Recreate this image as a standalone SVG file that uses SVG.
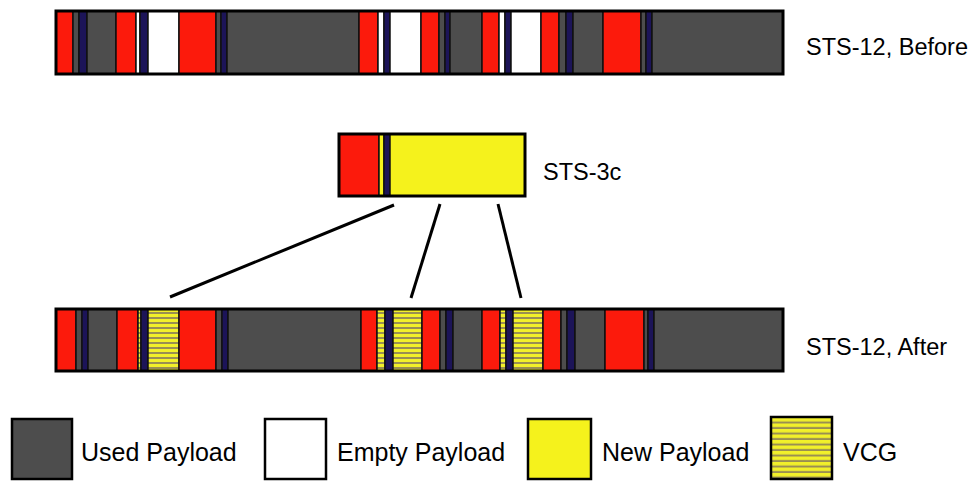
<svg xmlns="http://www.w3.org/2000/svg" width="972" height="481" viewBox="0 0 972 481">
<defs>
<pattern id="vcg" patternUnits="userSpaceOnUse" x="0" y="0" width="10" height="5">
<rect width="10" height="5" fill="#f2f02a"/>
<rect y="3" width="10" height="2" fill="#9a8f52"/>
</pattern>
<pattern id="vcgL" patternUnits="userSpaceOnUse" x="0" y="418" width="10" height="5.5">
<rect width="10" height="5.5" fill="#f2f02a"/>
<rect y="3.5" width="10" height="2" fill="#9a8f52"/>
</pattern>
</defs>
<style>
.r{fill:#fc1a0c;stroke:#111;stroke-width:1.5}
.g{fill:#4d4d4d;stroke:#111;stroke-width:1.5}
.n{fill:#1c1458;stroke:#111;stroke-width:1.5}
.w{fill:#ffffff;stroke:#111;stroke-width:1.5}
.y{fill:#f5f21c;stroke:#111;stroke-width:1.5}
.v{fill:url(#vcg);stroke:#111;stroke-width:1.5}
.frame{fill:none;stroke:#000;stroke-width:3}
.lbl{font-family:"Liberation Sans",Arial,sans-serif;font-size:23.5px;fill:#000}
.leg{font-family:"Liberation Sans",Arial,sans-serif;font-size:25px;fill:#000}
.conn{stroke:#000;stroke-width:3;fill:none}
.box{stroke:#000;stroke-width:2.5}
</style>
<rect width="972" height="481" fill="#fff"/>

<g id="sts12-before">
<g transform="translate(0,11)">
<rect class="r" x="56" width="17" height="63"/>
<rect class="g" x="73" width="6" height="63"/>
<rect class="n" x="79" width="8" height="63"/>
<rect class="g" x="87" width="29" height="63"/>
<rect class="r" x="116" width="20" height="63"/>
<rect class="w" x="136" width="4" height="63"/>
<rect class="n" x="140" width="8" height="63"/>
<rect class="w" x="148" width="31" height="63"/>
<rect class="r" x="179" width="37" height="63"/>
<rect class="g" x="216" width="5" height="63"/>
<rect class="n" x="221" width="6" height="63"/>
<rect class="g" x="227" width="132" height="63"/>
<rect class="r" x="359" width="19" height="63"/>
<rect class="w" x="378" width="6" height="63"/>
<rect class="n" x="384" width="6" height="63"/>
<rect class="w" x="390" width="31" height="63"/>
<rect class="r" x="421" width="18" height="63"/>
<rect class="g" x="439" width="6" height="63"/>
<rect class="n" x="445" width="5" height="63"/>
<rect class="g" x="450" width="32" height="63"/>
<rect class="r" x="482" width="17" height="63"/>
<rect class="w" x="499" width="6" height="63"/>
<rect class="n" x="505" width="6" height="63"/>
<rect class="w" x="511" width="30" height="63"/>
<rect class="r" x="541" width="18" height="63"/>
<rect class="g" x="559" width="7" height="63"/>
<rect class="n" x="566" width="7" height="63"/>
<rect class="g" x="573" width="30" height="63"/>
<rect class="r" x="603" width="38" height="63"/>
<rect class="g" x="641" width="5" height="63"/>
<rect class="n" x="646" width="6" height="63"/>
<rect class="g" x="652" width="131" height="63"/>
<rect class="frame" x="56" width="727" height="63"/>
</g>
<text class="lbl" x="806" y="55">STS-12, Before</text>
</g>

<g id="sts3c">
<rect class="r" x="339" y="134" width="40" height="62"/>
<rect class="y" x="379" y="134" width="5" height="62"/>
<rect class="n" x="384" y="134" width="6" height="62"/>
<rect class="y" x="390" y="134" width="135" height="62"/>
<rect class="frame" x="339" y="134" width="186" height="62"/>
<text class="lbl" x="543" y="180">STS-3c</text>
</g>

<g id="connectors">
<line class="conn" x1="394" y1="205" x2="170" y2="297"/>
<line class="conn" x1="440" y1="204" x2="411" y2="298"/>
<line class="conn" x1="498" y1="204" x2="521" y2="298"/>
</g>

<g id="sts12-after">
<g transform="translate(0,309)">
<rect class="r" x="56" width="20" height="62"/>
<rect class="g" x="76" width="6" height="62"/>
<rect class="n" x="82" width="6" height="62"/>
<rect class="g" x="88" width="29" height="62"/>
<rect class="r" x="117" width="21" height="62"/>
<rect class="v" x="138" width="3" height="62"/>
<rect class="n" x="141" width="7" height="62"/>
<rect class="v" x="148" width="31" height="62"/>
<rect class="r" x="179" width="37" height="62"/>
<rect class="g" x="216" width="6" height="62"/>
<rect class="n" x="222" width="6" height="62"/>
<rect class="g" x="228" width="133" height="62"/>
<rect class="r" x="361" width="16" height="62"/>
<rect class="v" x="377" width="8" height="62"/>
<rect class="n" x="385" width="8" height="62"/>
<rect class="v" x="393" width="29" height="62"/>
<rect class="r" x="422" width="18" height="62"/>
<rect class="g" x="440" width="6" height="62"/>
<rect class="n" x="446" width="7" height="62"/>
<rect class="g" x="453" width="29" height="62"/>
<rect class="r" x="482" width="18" height="62"/>
<rect class="v" x="500" width="6" height="62"/>
<rect class="n" x="506" width="7" height="62"/>
<rect class="v" x="513" width="30" height="62"/>
<rect class="r" x="543" width="18" height="62"/>
<rect class="g" x="561" width="6" height="62"/>
<rect class="n" x="567" width="8" height="62"/>
<rect class="g" x="575" width="30" height="62"/>
<rect class="r" x="605" width="39" height="62"/>
<rect class="g" x="644" width="4" height="62"/>
<rect class="n" x="648" width="6" height="62"/>
<rect class="g" x="654" width="129" height="62"/>
<rect class="frame" x="56" width="727" height="62"/>
</g>
<text class="lbl" x="806" y="355">STS-12, After</text>
</g>

<g id="legend-used">
<rect class="box" x="12" y="419" width="60" height="60" fill="#4d4d4d"/>
<text class="leg" x="81" y="461">Used Payload</text>
</g>
<g id="legend-empty">
<rect class="box" x="265" y="419" width="61" height="60" fill="#fff"/>
<text class="leg" x="337" y="461">Empty Payload</text>
</g>
<g id="legend-new">
<rect class="box" x="528" y="419" width="63" height="60" fill="#f5f21c"/>
<text class="leg" x="602" y="461">New Payload</text>
</g>
<g id="legend-vcg">
<rect class="box" x="771" y="417" width="61" height="62" fill="url(#vcgL)"/>
<text class="leg" x="843" y="461">VCG</text>
</g>
</svg>
